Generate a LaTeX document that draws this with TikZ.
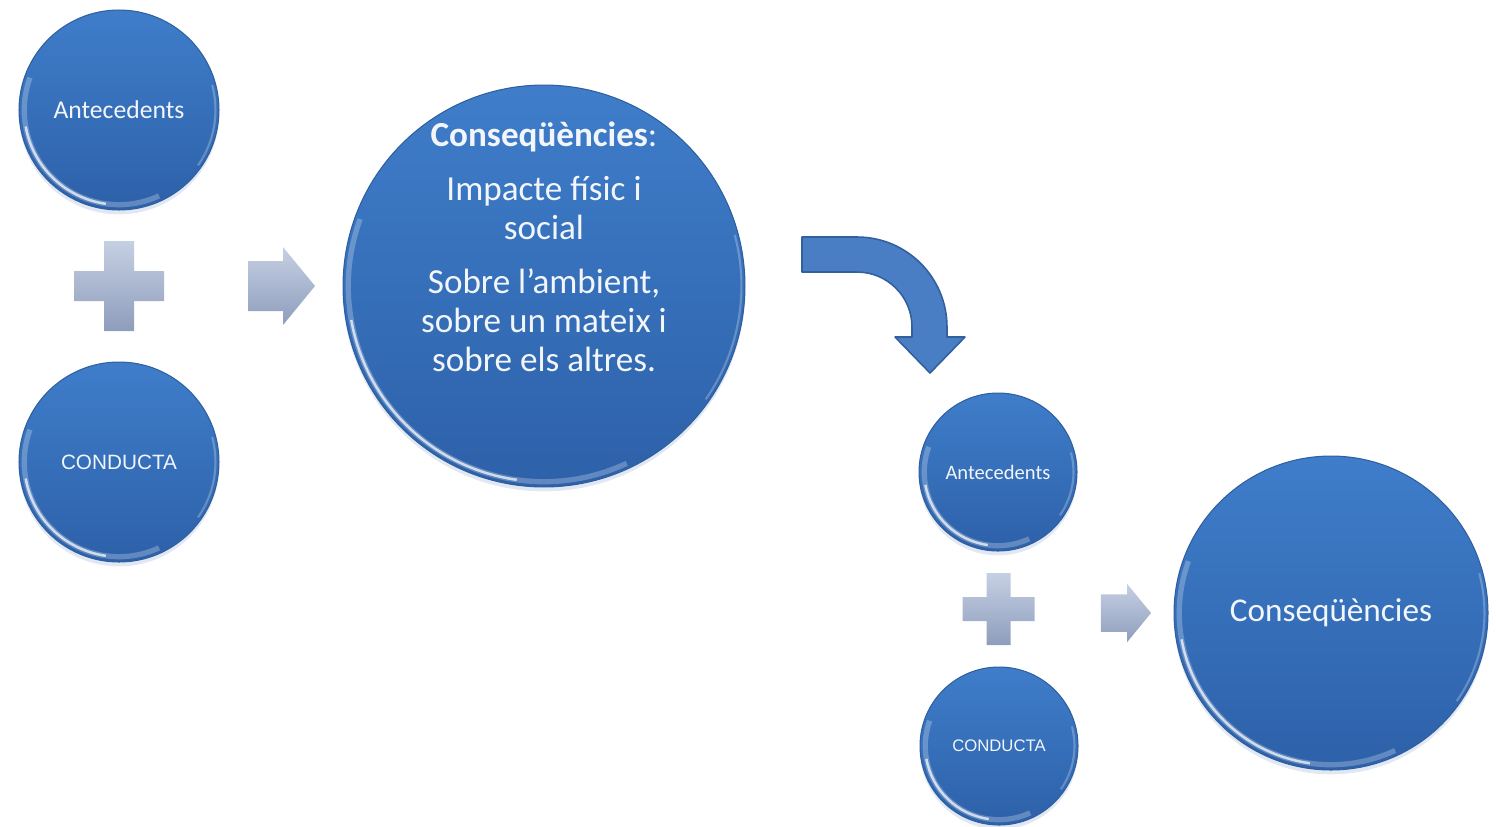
\documentclass[tikz,border=0pt]{standalone}
\usepackage{fontspec}
\setmainfont{Carlito}
\newfontfamily\arialfont{Liberation Sans}
\usepackage{tikz}
\usetikzlibrary{calc,shadows}
\definecolor{bubbletop}{HTML}{3F7DCA}
\definecolor{bubblebot}{HTML}{2D61A9}
\definecolor{bubbleedge}{HTML}{2F5F9F}
\definecolor{bubbleglow}{HTML}{A9BEDD}
\definecolor{plustop}{HTML}{C6D0E3}
\definecolor{plusbot}{HTML}{8E9DBC}
\definecolor{bendfill}{HTML}{4A7EC4}
\definecolor{benddraw}{HTML}{32609E}
\definecolor{bubbletext}{HTML}{F2F6FB}
\newcommand{\plussign}{\shade[top color=plustop, bottom color=plusbot] (-15,-45) -- (15,-45) -- (15,-15) -- (45,-15) -- (45,15) -- (15,15) -- (15,45) -- (-15,45) -- (-15,15) -- (-45,15) -- (-45,-15) -- (-15,-15) -- cycle;}
\newcommand{\blockarrow}{\shade[top color=plustop, bottom color=plusbot] (-33,-25) -- (2,-25) -- (2,-39) -- (34,0) -- (2,39) -- (2,25) -- (-33,25) -- cycle;}
\tikzset{
	bubble/.style={circle, inner sep=0pt, text=bubbletext, draw=bubbleedge, line width=0.6pt,
		top color=bubbletop, bottom color=bubblebot,
		drop shadow={shadow xshift=0pt, shadow yshift=-2.5pt, opacity=0.35, fill=bubbleglow},
		path picture={
			\draw[white, opacity=0.25, line width=3pt]
				let \p1=(path picture bounding box.center), \p2=(path picture bounding box.east),
				\n1={\x2-\x1-3pt} in
				(\p1) ++(160:\n1) arc[start angle=160, end angle=295, radius=\n1];
			\draw[white, opacity=0.7, line width=1.4pt]
				let \p1=(path picture bounding box.center), \p2=(path picture bounding box.east),
				\n1={\x2-\x1-3pt} in
				(\p1) ++(190:\n1) arc[start angle=190, end angle=262, radius=\n1];
			\draw[white, opacity=0.25, line width=1.2pt]
				let \p1=(path picture bounding box.center), \p2=(path picture bounding box.east),
				\n1={\x2-\x1-2pt} in
				(\p1) ++(-35:\n1) arc[start angle=-35, end angle=15, radius=\n1];
		}},
	bigtext/.style={align=center, text=bubbletext, font=\fontsize{20}{22.2}\selectfont},
	bendarrow/.style={fill=bendfill, draw=benddraw, line width=0.9pt, line join=round}
}
\begin{document}
\begin{tikzpicture}[x=0.02cm, y=-0.02cm]
				\useasboundingbox (0,0) rectangle (1496,826);

					\node[bubble, minimum size=4cm, font=\fontsize{14.6}{16}\selectfont] (anteA) at (119,110) {Antecedents};
					\node[bubble, minimum size=4cm, font=\arialfont\fontsize{11.8}{14}\selectfont] (condA) at (119,462) {CONDUCTA};
					\node[bubble, minimum size=8.04cm] (consA) at (544,286) {};
					\node[bigtext] (consAtext) at (544,247) {\textbf{Conseqüències}:\\[8.5pt]
						Impacte físic i\\ social\\[8.5pt]
						Sobre l’ambient,\\ sobre un mateix i\\ sobre els altres.};

					\node[bubble, minimum size=3.16cm, font=\fontsize{11.7}{13}\selectfont] (anteB) at (998,472) {Antecedents};
					\node[bubble, minimum size=3.16cm, font=\arialfont\fontsize{9.5}{11}\selectfont] (condB) at (999,746) {CONDUCTA};
					\node[bubble, minimum size=6.28cm, font=\fontsize{18.9}{21}\selectfont] (consB) at (1331,613) {Conseqüències};

					\coordinate (plusA) at ($(anteA)!0.5!(condA)$);
					\coordinate (arrowA) at ($(condA.east |- consA.west)!0.5!(consA.west)$);
					\coordinate (plusB) at ($(anteB)!0.5!(condB)$);
					\coordinate (arrowB) at ($(anteB.east |- consB.west)!0.5!(consB.west)$);

					\begin{scope}[shift={(plusA)}]
						\plussign
					\end{scope}

					\begin{scope}[shift={(arrowA)}]
						\blockarrow
					\end{scope}

					\begin{scope}[shift={(plusB)}, scale=0.8]
						\plussign
					\end{scope}

					\begin{scope}[shift={(arrowB)}, scale=0.75]
						\blockarrow
					\end{scope}

					\draw[bendarrow] (802,237) -- (857,237) arc[start angle=90, end angle=0, radius=1.8cm]
						-- (947,337) -- (965,337) -- (930,373) -- (895,337) -- (912,337) -- (912,327)
						arc[start angle=0, end angle=90, radius=1.1cm] -- (802,272) -- cycle;

				\end{tikzpicture}
\end{document}
